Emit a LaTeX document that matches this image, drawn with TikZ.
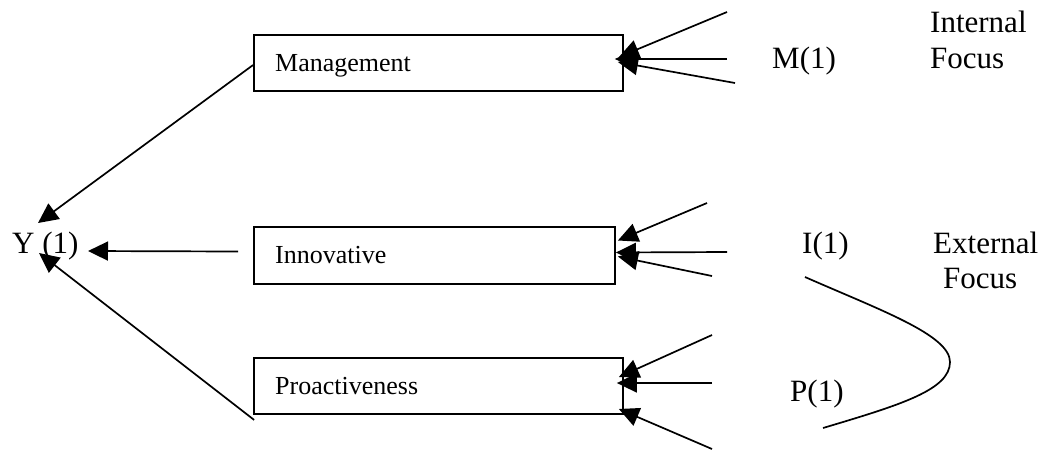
\documentclass[tikz,border=0pt]{standalone}
\usepackage{fontspec}
\setmainfont{Liberation Serif}
\usetikzlibrary{arrows.meta,calc}
\begin{document}
\begin{tikzpicture}[x=1pt,y=-1pt,
  big/.style={inner sep=0pt,anchor=base west,font=\fontsize{31}{36}\selectfont},
  lbl/.style={inner sep=0pt,anchor=base west,font=\fontsize{26}{30}\selectfont},
  boxnode/.style={draw,line width=1.8pt,inner sep=0pt,minimum height=56pt},
  arr/.style={line width=1.7pt,-{Triangle[length=20pt,width=19pt]}},
  ln/.style={line width=1.7pt}]
\useasboundingbox (0,0) rectangle (1042,451);
% boxes
\node[boxnode,minimum width=369pt] (mgmt) at (438.5,63) {};
\node[boxnode,minimum width=361pt,minimum height=57pt] (innov) at (434.5,255.5) {};
\node[boxnode,minimum width=369pt] (proact) at (438.5,386) {};
\node[lbl] (tm) at (275,71) {Management};
\node[lbl] (ti) at (275,263) {Innovative};
\node[lbl] (tp) at (275,394) {Proactiveness};
% texts
\node[big] (Y) at (12,253) {Y (1)};
\node[big] (M) at (772,68) {M(1)};
\node[big] (I) at (802,253) {I(1)};
\node[big] (P) at (790,401) {P(1)};
\node[big] (int1) at (930,32) {Internal};
\node[big] (int2) at (930,68) {Focus};
\node[big] (ext1) at (933,253) {External};
\node[big] (ext2) at (943,288) {Focus};
% arrows into Y
\coordinate (ytop) at ($(Y.base west)+(26,-30)$);
\coordinate (ymid) at ($(Y.base west)+(76,-2)$);
\coordinate (ybot) at ($(Y.base west)+(27,0)$);
\draw[arr] ($(mgmt.west)+(0,2)$) -- (ytop);
\draw[arr] ($(innov.west)+(-15,-4)$) -- (ymid);
\draw[arr] ($(proact.south west)+(1,5)$) -- (ybot);
% Management inputs
\coordinate (m1) at (727,12);
\coordinate (m2) at (727,59);
\coordinate (m3) at (735,83);
\draw[arr] (m1) -- ($(mgmt.east)+(-5,-6)$);
\draw[arr] (m2) -- ($(mgmt.east)+(-9,-4)$);
\draw[arr] (m3) -- ($(mgmt.east)+(-6,-1)$);
% Innovative inputs
\coordinate (i1) at (707,203);
\coordinate (i2) at (727,252);
\coordinate (i3) at (712,276);
\draw[arr] (i1) -- ($(innov.east)+(2,-15)$);
\draw[arr] (i2) -- ($(innov.east)+(0,-3)$);
\draw[arr] (i3) -- ($(innov.east)+(2,1)$);
% Proactiveness inputs
\coordinate (p1) at (712,335);
\coordinate (p2) at (712,383);
\coordinate (p3) at (712,449);
\draw[arr] (p1) -- ($(proact.east)+(-5,-9)$);
\draw[arr] (p2) -- ($(proact.east)+(-7,-3)$);
\draw[arr] (p3) -- ($(proact.east)+(-5,23)$);
% curve
\coordinate (c1) at (805,277);
\coordinate (c2) at (950,362);
\coordinate (c3) at (823,428);
\draw[ln] (c1) .. controls (880,310) and (950,335) .. (c2)
  .. controls (950,390) and (900,405) .. (c3);
\end{tikzpicture}
\end{document}
